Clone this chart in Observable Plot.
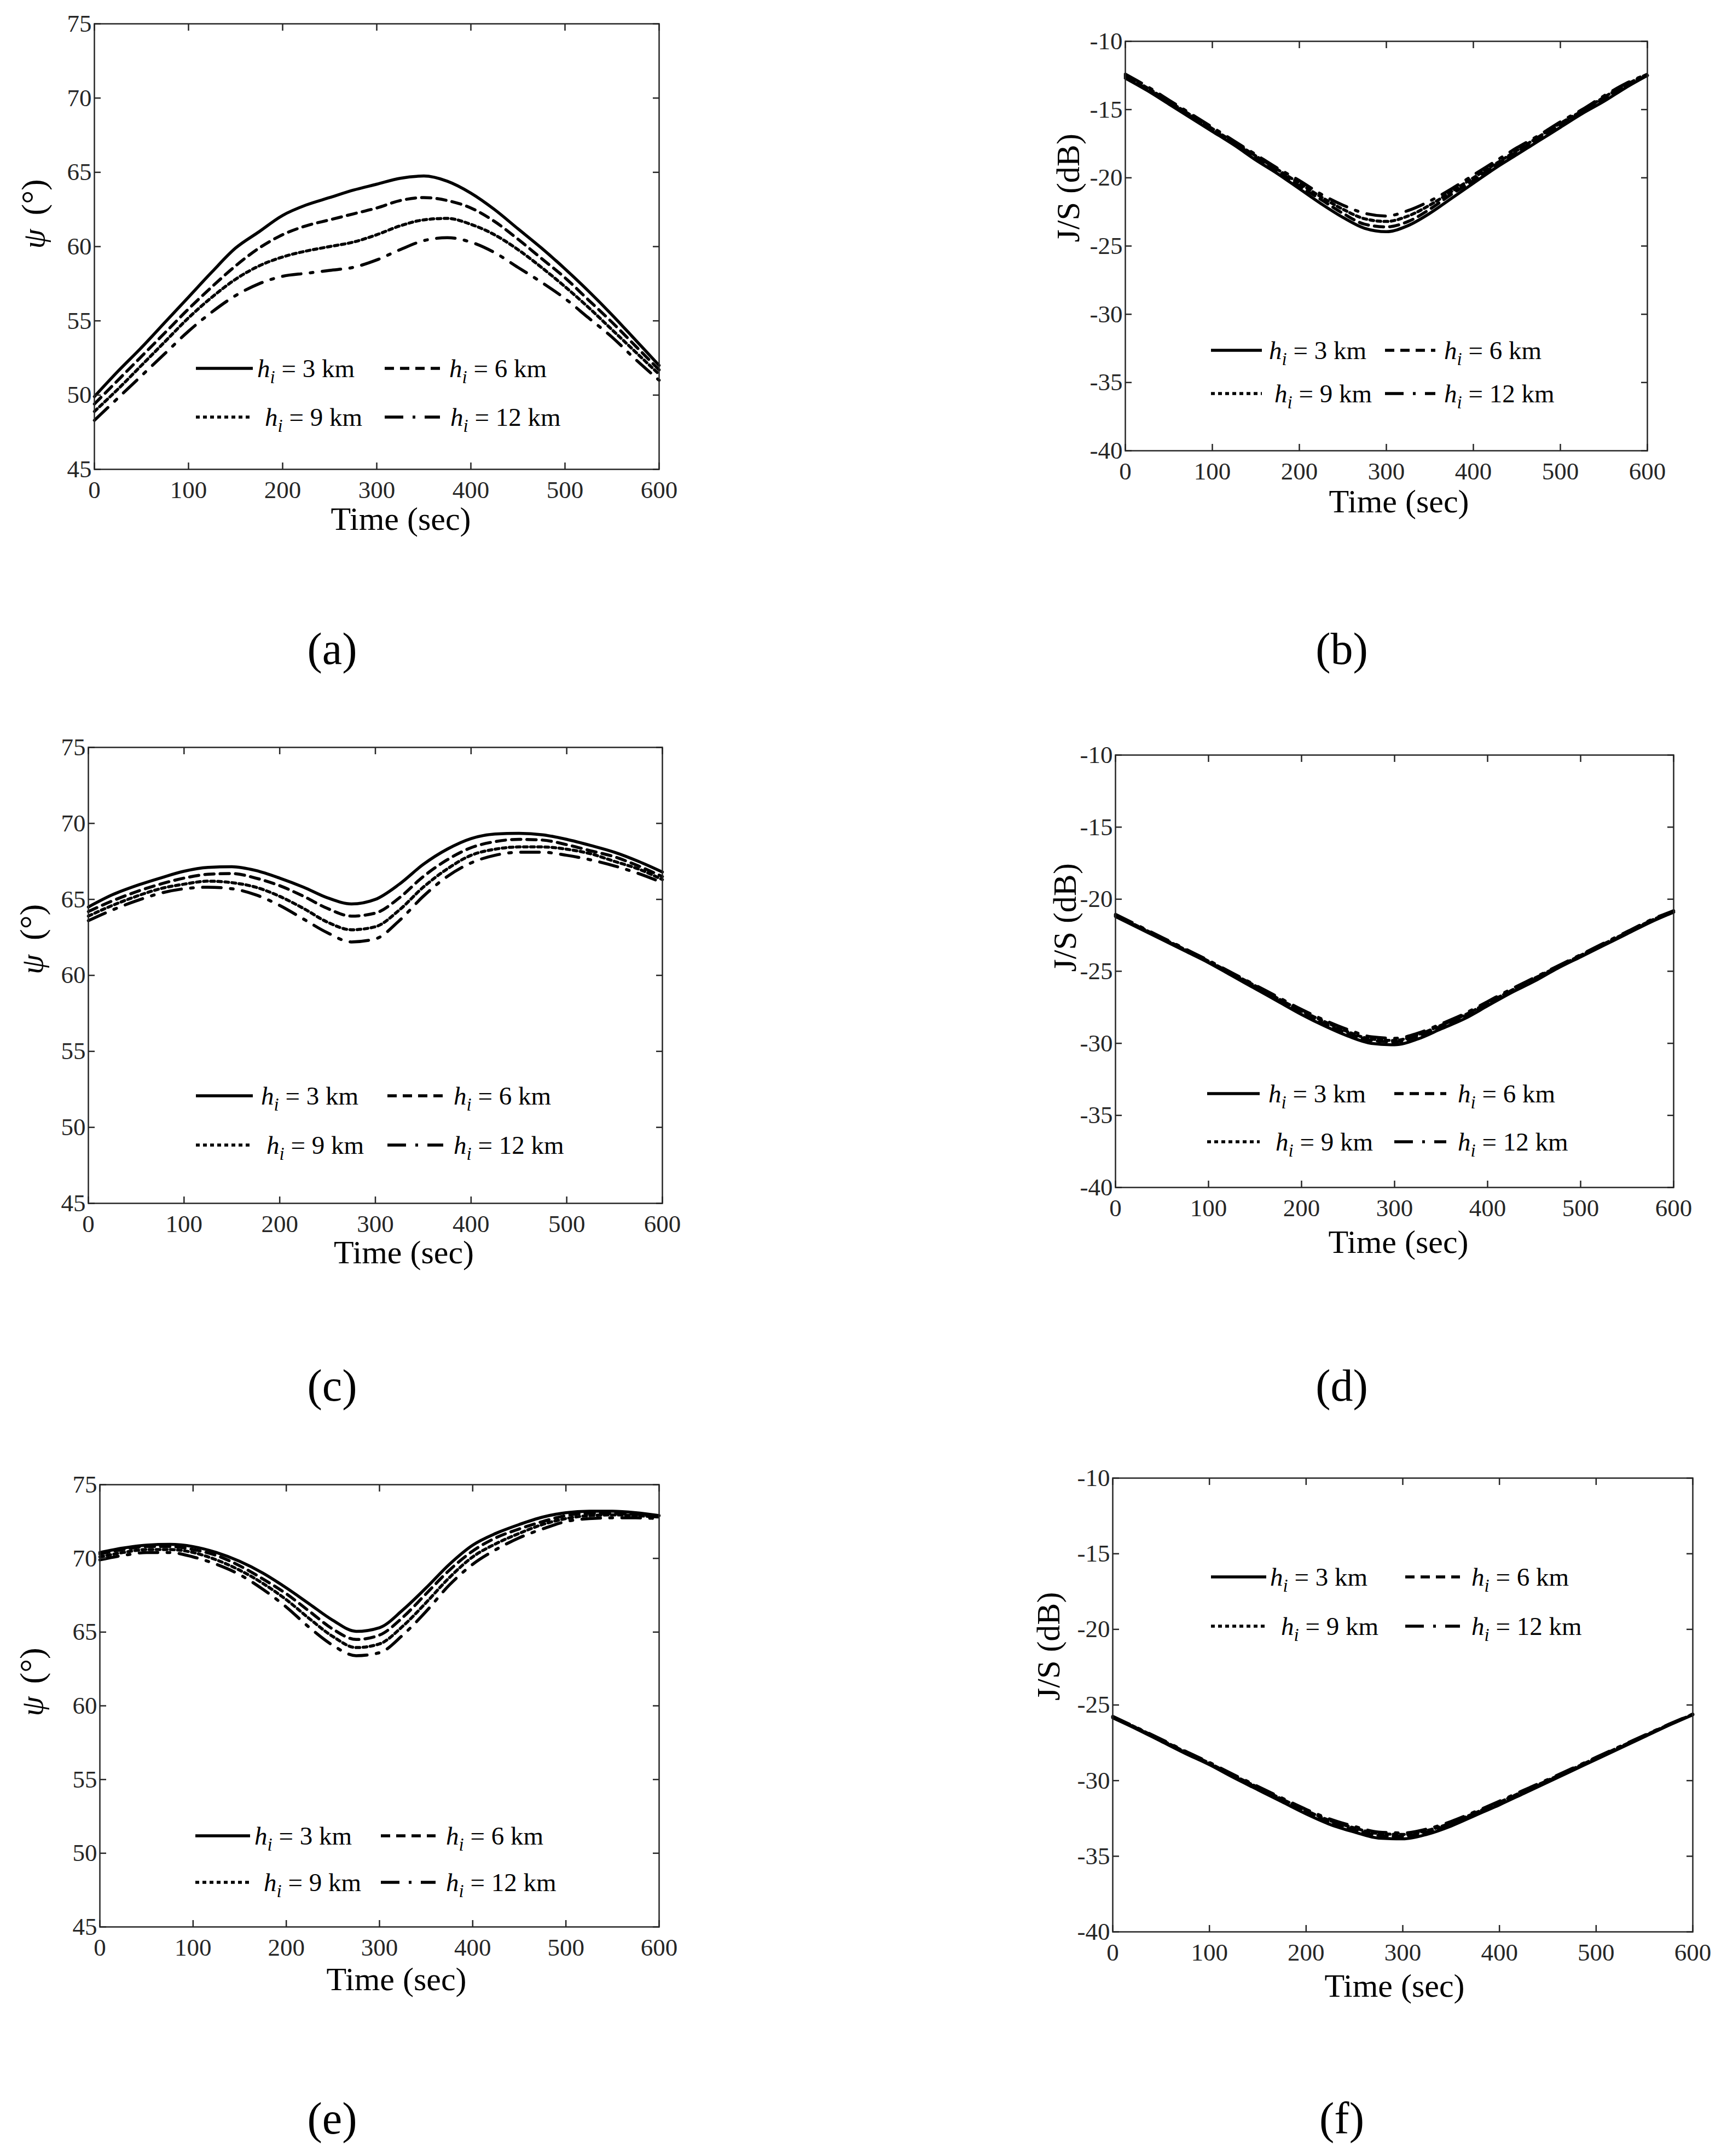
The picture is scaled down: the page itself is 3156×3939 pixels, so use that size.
<!DOCTYPE html>
<html>
<head>
<meta charset="utf-8">
<script src="https://cdn.jsdelivr.net/npm/d3@7"></script>
<script src="https://cdn.jsdelivr.net/npm/@observablehq/plot@0.6"></script>
<style>
  html, body { margin: 0; padding: 0; background: #fff; }
  #page { position: relative; width: 3156px; height: 3939px; background: #fff; overflow: hidden; }
  #page > svg { position: absolute; max-width: none !important; }
</style>
</head>
<body>
<div id="page"></div>
<script>
// ---------- data ----------
const TIME = [0,25,50,75,100,125,150,175,200,225,250,275,300,325,350,375,400,425,450,475,500,525,550,575,600];
const TIME_TICKS = [0,100,200,300,400,500,600];
const PSI_TICKS = [45,50,55,60,65,70,75];
const JS_TICKS = [-40,-35,-30,-25,-20,-15,-10];
const HEIGHTS_KM = [3, 6, 9, 12];

// (a) psi, scenario 1
const a_h3  = [49.9,51.6,53.2,54.9,56.6,58.3,59.9,61.0,62.1,62.8,63.3,63.8,64.2,64.6,64.75,64.4,63.6,62.5,61.2,59.9,58.5,57.0,55.4,53.7,52.0];
const a_h6  = [49.4,51.0,52.6,54.2,55.8,57.3,58.7,59.9,60.8,61.4,61.8,62.2,62.6,63.1,63.3,63.1,62.6,61.7,60.5,59.2,57.9,56.4,54.9,53.3,51.7];
const a_h9  = [48.9,50.4,52.0,53.6,55.2,56.6,57.8,58.7,59.3,59.7,60.0,60.3,60.8,61.4,61.8,61.9,61.5,60.8,59.8,58.6,57.3,55.9,54.4,52.9,51.4];
const a_h12 = [48.3,49.8,51.3,52.8,54.3,55.6,56.7,57.5,58.0,58.2,58.4,58.6,59.1,59.8,60.4,60.6,60.3,59.6,58.6,57.6,56.5,55.2,53.9,52.4,51.0];
// (b) J/S, scenario 1
const b_h3  = [-12.7,-13.6,-14.6,-15.6,-16.6,-17.6,-18.7,-19.7,-20.8,-21.9,-22.9,-23.7,-23.95,-23.5,-22.6,-21.5,-20.4,-19.3,-18.3,-17.3,-16.3,-15.3,-14.4,-13.4,-12.5];
const b_h6  = [-12.6,-13.5,-14.5,-15.5,-16.5,-17.5,-18.5,-19.5,-20.6,-21.6,-22.6,-23.4,-23.6,-23.2,-22.3,-21.2,-20.2,-19.1,-18.1,-17.1,-16.1,-15.2,-14.2,-13.3,-12.5];
const b_h9  = [-12.5,-13.4,-14.4,-15.4,-16.4,-17.4,-18.4,-19.4,-20.4,-21.4,-22.3,-23.0,-23.2,-22.8,-22.0,-21.0,-20.0,-19.0,-18.0,-17.0,-16.0,-15.1,-14.1,-13.2,-12.4];
const b_h12 = [-12.4,-13.3,-14.3,-15.3,-16.3,-17.3,-18.3,-19.3,-20.2,-21.2,-22.0,-22.6,-22.8,-22.4,-21.7,-20.8,-19.8,-18.8,-17.8,-16.9,-15.9,-15.0,-14.0,-13.1,-12.4];
// (c) psi, scenario 2
const c_h3  = [64.5,65.3,65.9,66.4,66.85,67.1,67.15,66.9,66.4,65.8,65.1,64.7,65.0,66.0,67.3,68.3,69.0,69.3,69.35,69.25,68.95,68.55,68.1,67.5,66.8];
const c_h6  = [64.2,64.9,65.5,66.0,66.4,66.65,66.7,66.4,65.9,65.2,64.4,63.9,64.1,65.1,66.5,67.6,68.4,68.8,68.95,68.9,68.6,68.2,67.8,67.2,66.5];
const c_h9  = [63.9,64.6,65.2,65.7,66.0,66.2,66.1,65.8,65.2,64.4,63.5,63.0,63.2,64.3,65.8,67.0,67.9,68.3,68.45,68.45,68.3,68.0,67.5,67.0,66.3];
const c_h12 = [63.6,64.3,64.9,65.4,65.7,65.8,65.7,65.3,64.6,63.7,62.8,62.2,62.4,63.6,65.2,66.5,67.4,67.9,68.1,68.1,67.9,67.6,67.2,66.7,66.1];
// (d) J/S, scenario 2
const d_h3  = [-21.2,-22.0,-22.8,-23.6,-24.4,-25.3,-26.2,-27.1,-28.0,-28.8,-29.5,-30.0,-30.1,-29.7,-29.0,-28.3,-27.4,-26.5,-25.7,-24.8,-24.0,-23.2,-22.4,-21.6,-20.9];
const d_h6  = [-21.15,-21.95,-22.75,-23.55,-24.35,-25.2,-26.1,-27.0,-27.85,-28.65,-29.3,-29.8,-29.9,-29.5,-28.85,-28.15,-27.3,-26.4,-25.6,-24.75,-23.95,-23.15,-22.35,-21.55,-20.9];
const d_h9  = [-21.1,-21.9,-22.7,-23.5,-24.3,-25.15,-26.0,-26.9,-27.75,-28.5,-29.2,-29.7,-29.8,-29.4,-28.75,-28.05,-27.2,-26.35,-25.5,-24.7,-23.9,-23.1,-22.3,-21.5,-20.85];
const d_h12 = [-21.05,-21.85,-22.65,-23.45,-24.25,-25.1,-25.95,-26.8,-27.65,-28.4,-29.05,-29.55,-29.65,-29.3,-28.65,-27.95,-27.1,-26.25,-25.45,-24.65,-23.85,-23.05,-22.25,-21.45,-20.8];
// (e) psi, scenario 3
const e_h3  = [70.4,70.7,70.9,70.95,70.8,70.4,69.8,69.0,68.0,66.9,65.8,65.05,65.3,66.5,68.0,69.6,70.9,71.7,72.3,72.8,73.1,73.2,73.2,73.1,72.9];
const e_h6  = [70.3,70.6,70.8,70.8,70.6,70.2,69.5,68.6,67.6,66.4,65.2,64.5,64.8,66.0,67.6,69.2,70.5,71.4,72.0,72.5,72.9,73.05,73.05,73.0,72.85];
const e_h9  = [70.1,70.4,70.6,70.6,70.4,69.9,69.2,68.3,67.2,65.9,64.7,63.95,64.2,65.4,67.0,68.7,70.1,71.0,71.7,72.3,72.7,72.9,72.95,72.9,72.8];
const e_h12 = [69.9,70.2,70.4,70.4,70.1,69.6,68.9,67.9,66.7,65.3,64.1,63.4,63.6,64.8,66.4,68.2,69.6,70.6,71.4,72.0,72.5,72.7,72.75,72.75,72.7];
// (f) J/S, scenario 3
const f_h3  = [-25.85,-26.6,-27.4,-28.2,-28.95,-29.8,-30.6,-31.4,-32.2,-32.9,-33.4,-33.8,-33.85,-33.55,-33.0,-32.3,-31.6,-30.85,-30.1,-29.35,-28.6,-27.85,-27.1,-26.35,-25.65];
const f_h6  = [-25.8,-26.55,-27.35,-28.15,-28.9,-29.72,-30.5,-31.3,-32.08,-32.75,-33.25,-33.62,-33.68,-33.4,-32.88,-32.2,-31.5,-30.77,-30.03,-29.3,-28.55,-27.8,-27.06,-26.32,-25.63];
const f_h9  = [-25.78,-26.52,-27.3,-28.1,-28.85,-29.66,-30.44,-31.22,-31.98,-32.65,-33.13,-33.5,-33.56,-33.3,-32.8,-32.13,-31.43,-30.7,-29.98,-29.25,-28.5,-27.76,-27.03,-26.3,-25.62];
const f_h12 = [-25.75,-26.5,-27.26,-28.05,-28.8,-29.6,-30.38,-31.15,-31.9,-32.55,-33.03,-33.4,-33.46,-33.2,-32.7,-32.05,-31.36,-30.64,-29.93,-29.2,-28.46,-27.73,-27.0,-26.28,-25.6];

// ---------- styles ----------
const DASHES = [null, "17,11", "7,6", "34,17,5,17"];
const FONT = "'Liberation Serif', 'Times New Roman', serif";

const panels = [
  {cap:"(a)", capX:607, capY:1187, kind:"psi", L:172, R:1204, T:43, B:857, series:[a_h3,a_h6,a_h9,a_h12],
   tdx:44, tdy:110, ydx:-110, psiDy:4, degDy:-57,
   leg:{rows:[673,762], c1:[358,462], t1:[470,484], c2:[703,804], t2:[821,823]}},
  {cap:"(b)", capX:2452, capY:1187, kind:"js", L:2056, R:3010, T:75, B:823, series:[b_h3,b_h6,b_h9,b_h12],
   tdx:23, tdy:112, ydx:-104, jsDy:-7,
   leg:{rows:[640,719], c1:[2213,2306], t1:[2319,2329], c2:[2531,2623], t2:[2639,2639]}},
  {cap:"(c)", capX:607, capY:2533, kind:"psi", L:161, R:1210, T:1365, B:2198, series:[c_h3,c_h6,c_h9,c_h12],
   tdx:52, tdy:109, ydx:-102, psiDy:-2, degDy:-64,
   leg:{rows:[2002,2092], c1:[358,462], t1:[477,487], c2:[708,810], t2:[829,829]}},
  {cap:"(d)", capX:2452, capY:2533, kind:"js", L:2038, R:3058, T:1379, B:2169, series:[d_h3,d_h6,d_h9,d_h12],
   tdx:7, tdy:119, ydx:-92, jsDy:1,
   leg:{rows:[1998,2086], c1:[2206,2302], t1:[2318,2331], c2:[2548,2643], t2:[2664,2664]}},
  {cap:"(e)", capX:607, capY:3872, kind:"psi", L:182, R:1204, T:2712, B:3520, series:[e_h3,e_h6,e_h9,e_h12],
   tdx:31, tdy:115, ydx:-123, psiDy:19, degDy:-40,
   leg:{rows:[3354,3439], c1:[357,457], t1:[465,482], c2:[696,796], t2:[815,815]}},
  {cap:"(f)", capX:2452, capY:3872, kind:"js", L:2033, R:3093, T:2700, B:3529, series:[f_h3,f_h6,f_h9,f_h12],
   tdx:-15, tdy:118, ydx:-117, jsDy:-8,
   leg:{rows:[2881,2971], c1:[2213,2314], t1:[2321,2341], c2:[2568,2668], t2:[2689,2689]}}
];

const page = document.getElementById("page");

function makePanel(p) {
  const mL = 180, mR = 30, mT = 30, mB = 170;
  const fw = p.R - p.L, fh = p.B - p.T;
  const isPsi = p.kind === "psi";
  const yTicks = isPsi ? PSI_TICKS : JS_TICKS;
  const lines = p.series.map((vals, k) => {
    const rows = vals.map((v, i) => ({t: TIME[i], v}));
    return Plot.line(rows, {x: "t", y: "v", stroke: "black", strokeWidth: 5.5,
      strokeDasharray: DASHES[k] || undefined, curve: "monotone-x", strokeLinejoin: "round"});
  });
  const yLabel = isPsi
    ? [Plot.text(["ψ"], {text: d => d, frameAnchor: "left", dx: p.ydx, dy: p.psiDy, rotate: -90, fontStyle: "italic", fontSize: 58, fill: "black"}),
       Plot.text(["(°)"], {text: d => d, frameAnchor: "left", dx: p.ydx, dy: p.degDy, rotate: -90, fontSize: 62, fill: "black"})]
    : [Plot.text(["J/S (dB)"], {text: d => d, frameAnchor: "left", dx: p.ydx, dy: p.jsDy, rotate: -90, fontSize: 60, fill: "black"})];
  const tickOnly = {tickSize: -12, fill: "none", label: null, strokeWidth: 2.5, stroke: "#262626"};
  const svg = Plot.plot({
    width: fw + mL + mR,
    height: fh + mT + mB,
    marginLeft: mL, marginRight: mR, marginTop: mT, marginBottom: mB,
    x: {domain: [0, 600]},
    y: {domain: isPsi ? [45, 75] : [-40, -10]},
    style: {fontFamily: FONT, fontSize: "45px", color: "#262626", background: "transparent", overflow: "visible", maxWidth: "none"},
    marks: [
      ...lines,
      Plot.frame({stroke: "#262626", strokeWidth: 2.5}),
      Plot.axisX(TIME_TICKS, {anchor: "bottom", tickSize: 0, tickPadding: 21, tickFormat: d => String(d), label: null, fill: "#262626"}),
      Plot.axisX(TIME_TICKS, {anchor: "bottom", ...tickOnly}),
      Plot.axisX(TIME_TICKS, {anchor: "top", ...tickOnly}),
      Plot.axisY(yTicks, {anchor: "left", tickSize: 0, tickPadding: 5, tickFormat: d => String(d), label: null, fill: "#262626"}),
      Plot.axisY(yTicks, {anchor: "left", ...tickOnly}),
      Plot.axisY(yTicks, {anchor: "right", ...tickOnly}),
      Plot.text(["Time (sec)"], {text: d => d, frameAnchor: "bottom", dx: p.tdx, dy: p.tdy, fontSize: 60, fill: "black"}),
      ...yLabel
    ]
  });
  svg.style.left = (p.L - mL) + "px";
  svg.style.top = (p.T - mT) + "px";
  page.appendChild(svg);
}

panels.forEach(makePanel);

// ---------- legends and captions (overlay) ----------
const ov = d3.select(page).append("svg")
  .attr("width", 3156).attr("height", 3939)
  .style("left", "0px").style("top", "0px")
  .style("font-family", FONT);

panels.forEach(p => {
  const g = ov.append("g");
  const items = [
    {k: 0, row: 0, col: "c1", tcol: "t1"},
    {k: 1, row: 0, col: "c2", tcol: "t2"},
    {k: 2, row: 1, col: "c1", tcol: "t1"},
    {k: 3, row: 1, col: "c2", tcol: "t2"}
  ];
  items.forEach(it => {
    const y = p.leg.rows[it.row];
    const [x1, x2] = p.leg[it.col];
    const tx = it.row === 0 ? p.leg[it.tcol][0] : p.leg[it.tcol][1];
    g.append("line").attr("x1", x1).attr("x2", x2).attr("y1", y).attr("y2", y)
      .attr("stroke", "black").attr("stroke-width", 5.5)
      .attr("stroke-dasharray", DASHES[it.k]);
    const t = g.append("text").attr("x", tx).attr("y", y + 16)
      .attr("font-size", 47).attr("fill", "black");
    t.append("tspan").attr("font-style", "italic").text("h");
    t.append("tspan").attr("font-style", "italic").attr("font-size", 33).attr("dy", 11).text("i");
    t.append("tspan").attr("dy", -11).text(` = ${HEIGHTS_KM[it.k]} km`);
  });
  ov.append("text").attr("x", p.capX).attr("y", p.capY + 26)
    .attr("text-anchor", "middle").attr("font-size", 82).attr("fill", "black")
    .text(p.cap);
});
</script>
</body>
</html>
